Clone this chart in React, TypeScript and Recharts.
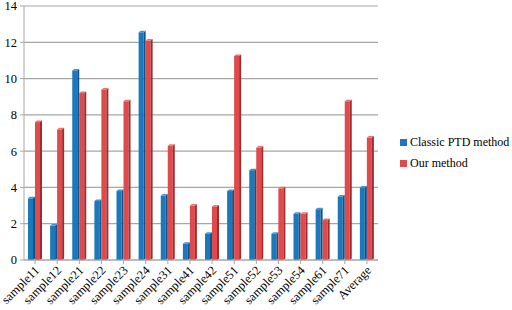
import React from 'react';
import { BarChart, Bar, XAxis, YAxis, CartesianGrid } from 'recharts';

const categories = ['sample11','sample12','sample21','sample22','sample23','sample24','sample31','sample41','sample42','sample51','sample52','sample53','sample54','sample61','sample71','Average'];
const classicValues = [3.4, 1.9, 10.45, 3.25, 3.8, 12.55, 3.55, 0.9, 1.45, 3.8, 4.95, 1.45, 2.55, 2.8, 3.5, 4.0];
const ourValues = [7.6, 7.2, 9.2, 9.4, 8.75, 12.1, 6.3, 3.0, 2.95, 11.25, 6.2, 3.95, 2.55, 2.2, 8.75, 6.75];
const yTicks = [0, 2, 4, 6, 8, 10, 12, 14];
const seriesNames = ['Classic PTD method', 'Our method'];
const seriesColors = ['#1b78bd', '#e04a4c'];

const data = categories.map((name, i) => ({ name, classic: classicValues[i], ours: ourValues[i] }));

const FONT = '"Liberation Serif", "Times New Roman", serif';

const make3D = (front: string, side: string, top: string) => (props: any) => {
  const { x, y, width, height } = props;
  if (height <= 0) return null;
  const sw = 2;
  const fw = width - sw;
  return (
    <g>
      <rect x={x} y={y} width={fw} height={height} fill={front} />
      <polygon points={`${x + fw},${y} ${x + width},${y - 1.5} ${x + width},${y + height - 1.5} ${x + fw},${y + height}`} fill={side} />
      <polygon points={`${x},${y} ${x + sw},${y - 1.5} ${x + width},${y - 1.5} ${x + fw},${y}`} fill={top} />
    </g>
  );
};

const BlueBar = make3D('#1b78bd', '#0f5486', '#3f93d0');
const RedBar = make3D('#e04a4c', '#9e2c2e', '#ec7072');

const XTick = (props: any) => {
  const { x, y, payload } = props;
  return (
    <text
      x={0}
      y={0}
      transform={`translate(${x + 3},${y + 3}) rotate(-45)`}
      textAnchor="end"
      dominantBaseline="middle"
      fontFamily={FONT}
      fontSize={12.5}
      fill="#000"
    >
      {payload.value}
    </text>
  );
};

export default function App() {
  return (
    <div style={{ position: 'absolute', left: 0, top: 0, width: 512, height: 310, background: '#fff' }}>
      <BarChart
        width={512}
        height={310}
        data={data}
        margin={{ top: 6, right: 134, left: 0, bottom: 0 }}
        barGap={0}
        barSize={7}
      >
        <CartesianGrid vertical={false} stroke="#a6a6a6" strokeWidth={1.2} />
        <XAxis
          dataKey="name"
          interval={0}
          height={50}
          tick={<XTick />}
          axisLine={{ stroke: '#a6a6a6' }}
          tickLine={{ stroke: '#a6a6a6' }}
          tickSize={4}
        />
        <YAxis
          width={24}
          domain={[0, 14]}
          ticks={yTicks}
          interval={0}
          axisLine={{ stroke: '#a6a6a6' }}
          tickLine={{ stroke: '#a6a6a6' }}
          tickSize={4}
          tick={{ fontFamily: FONT, fontSize: 12.5, fill: '#000' }}
          tickMargin={3}
        />
        <Bar dataKey="classic" name={seriesNames[0]} fill={seriesColors[0]} shape={BlueBar} isAnimationActive={false} />
        <Bar dataKey="ours" name={seriesNames[1]} fill={seriesColors[1]} shape={RedBar} isAnimationActive={false} />
      </BarChart>
      <div style={{ position: 'absolute', left: 400, top: 132, fontFamily: FONT, fontSize: 12, color: '#000', whiteSpace: 'nowrap' }}>
        {seriesNames.map((n, i) => (
          <div key={n} style={{ display: 'flex', alignItems: 'center', height: 21 }}>
            <span style={{ display: 'inline-block', width: 7, height: 7, background: seriesColors[i], marginRight: 3 }} />
            <span>{n}</span>
          </div>
        ))}
      </div>
    </div>
  );
}
